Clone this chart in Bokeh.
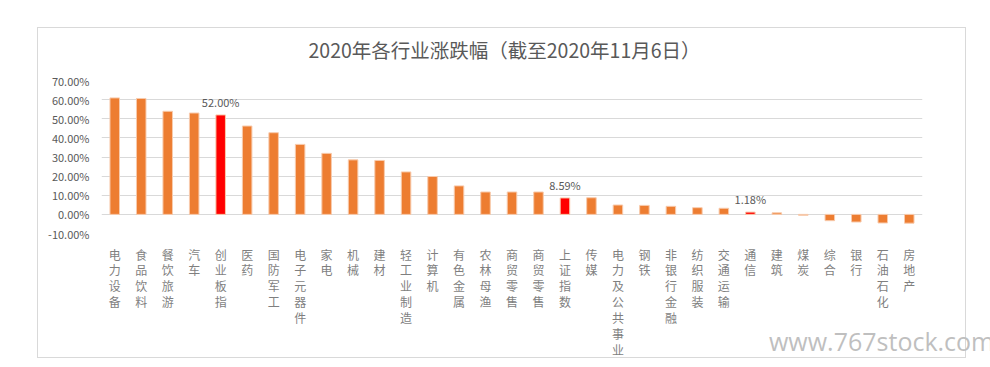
from bokeh.plotting import figure
from bokeh.models import (FixedTicker, PrintfTickFormatter, ColumnDataSource, Range1d,
                          FactorRange, Div)
from bokeh.core.properties import value
from bokeh.embed import file_html
from bokeh.resources import INLINE

title = "2020年各行业涨跌幅（截至2020年11月6日）"
watermark = "www.767stock.com"
categories = ["电力设备", "食品饮料", "餐饮旅游", "汽车", "创业板指", "医药", "国防军工",
              "电子元器件", "家电", "机械", "建材", "轻工业制造", "计算机", "有色金属",
              "农林母渔", "商贸零售", "商贸零售", "上证指数", "传媒", "电力及公共事业",
              "钢铁", "非银行金融", "纺织服装", "交通运输", "通信", "建筑", "煤炭",
              "综合", "银行", "石油石化", "房地产"]
values = [60.9, 60.6, 53.9, 53.0, 52.0, 46.2, 42.7, 36.6, 31.9, 28.5, 28.2, 22.2, 19.8,
          14.9, 11.7, 11.7, 11.7, 8.59, 8.7, 4.9, 4.7, 4.2, 3.5, 3.2, 1.18, 0.8, -0.5,
          -3.3, -4.0, -4.5, -4.6]
highlighted = ["创业板指", "上证指数", "通信"]
value_labels = {"创业板指": "52.00%", "上证指数": "8.59%", "通信": "1.18%"}
y_ticks = [-10, 0, 10, 20, 30, 40, 50, 60, 70]

ORANGE = "#ED7D31"
RED = "#FF0000"
TXT = "#595959"
FONT = "Noto Sans CJK SC"

# vertical (one character per line) factor labels; keep factors unique
factors = []
for c in categories:
    f = "\n".join(c)
    while f in factors:
        f += "\n"
    factors.append(f)

colors = [RED if c in highlighted else ORANGE for c in categories]
src = ColumnDataSource(dict(x=factors, top=values, color=colors))

p = figure(frame_width=821, frame_height=153, output_backend="svg", toolbar_location=None,
           x_range=FactorRange(factors=factors, range_padding=0),
           y_range=Range1d(-10, 70),
           min_border_left=101, min_border_right=60, min_border_top=80,
           min_border_bottom=127)
p.outline_line_color = None
p.background_fill_color = "white"
p.border_fill_color = "white"

p.title.text = title
p.title.align = "left"
p.title.offset = 207
p.title.standoff = 34
p.title.text_font = FONT
p.title.text_font_size = "19.5px"
p.title.text_font_style = "normal"
p.title.text_color = TXT

p.vbar(x="x", top="top", bottom=0, width=0.36, source=src, fill_color="color",
       line_color="#F8CBAD", line_width=1)

idx = [categories.index(k) for k in value_labels]
p.text(x=[factors[i] for i in idx], y=[values[i] for i in idx],
       text=list(value_labels.values()), text_align="center", text_baseline="bottom",
       y_offset=-5, text_font=value(FONT), text_font_size="11px", text_color=TXT)

# axes
p.yaxis.ticker = FixedTicker(ticks=y_ticks)
p.yaxis.formatter = PrintfTickFormatter(format="%.2f%%")
p.yaxis.axis_line_color = None
p.yaxis.major_tick_line_color = None
p.yaxis.major_tick_out = 0
p.yaxis.major_tick_in = 0
p.yaxis.minor_tick_line_color = None
p.yaxis.major_label_text_font = FONT
p.yaxis.major_label_text_font_size = "11px"
p.yaxis.major_label_text_color = TXT
p.yaxis.major_label_standoff = 12

p.xaxis.axis_line_color = None
p.xaxis.major_tick_line_color = None
p.xaxis.major_tick_out = 0
p.xaxis.major_tick_in = 0
p.xaxis.minor_tick_line_color = None
p.xaxis.major_label_text_font = FONT
p.xaxis.major_label_text_font_size = "12px"
p.xaxis.major_label_text_color = "#7F7F7F"
p.xaxis.major_label_text_line_height = 0.94
p.xaxis.major_label_standoff = 12
p.xaxis.major_label_orientation = "horizontal"

p.xgrid.grid_line_color = None
p.ygrid.ticker = FixedTicker(ticks=y_ticks)
p.ygrid.grid_line_color = "#D9D9D9"
p.ygrid.grid_line_width = 1

border = Div(text="", width=929, height=331, margin=0,
             styles={"position": "absolute", "left": "37px", "top": "27px",
                     "border": "1px solid #D9D9D9", "box-sizing": "border-box",
                     "pointer-events": "none"})
wm = Div(text=watermark, margin=0,
         styles={"position": "absolute", "left": "769px", "top": "329px",
                 "font-family": "Open Sans", "font-size": "25px", "line-height": "25px",
                 "color": "#BFBFBF", "white-space": "nowrap", "pointer-events": "none"})

open("out.html", "w").write(file_html([p, border, wm], INLINE))
